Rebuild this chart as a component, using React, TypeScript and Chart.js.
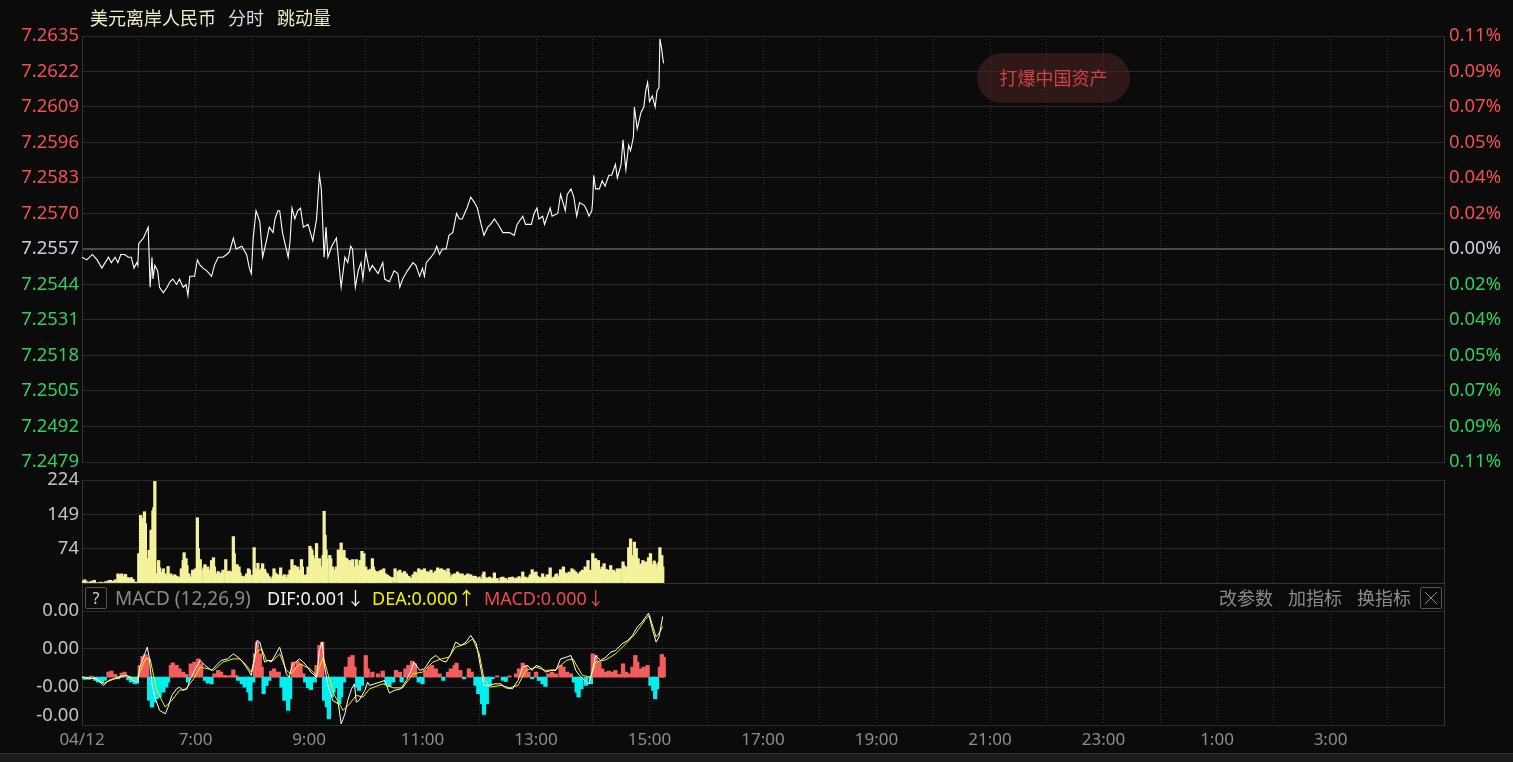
import React, { useEffect, useRef } from "react";
import { Chart, registerables } from "chart.js";

Chart.register(...registerables);

// ---------------- data ----------------
// time axis: minutes after 05:00 (04/12)
const hourLabels = ["04/12", "", "7:00", "", "9:00", "", "11:00", "", "13:00", "", "15:00", "", "17:00", "", "19:00", "", "21:00", "", "23:00", "", "1:00", "", "3:00", "", ""];

const priceTimes = [
  0, 5, 11, 16, 21, 28, 31, 35, 38, 41,
  45, 49, 52, 55, 58, 59, 60, 65, 70, 72,
  74, 75, 77, 80, 82, 86, 90, 93, 96, 100,
  103, 107, 110, 112, 114, 119, 122, 125, 128, 132,
  137, 140, 144, 149, 153, 156, 160, 163, 169, 174,
  177, 179, 181, 184, 188, 191, 195, 198, 202, 204,
  207, 209, 212, 218, 220, 222, 225, 228, 231, 234,
  239, 244, 248, 251, 253, 256, 258, 260, 264, 269,
  274, 278, 281, 284, 286, 289, 292, 295, 297, 300,
  304, 307, 313, 318, 320, 325, 330, 334, 336, 339,
  344, 350, 353, 357, 360, 362, 364, 369, 373, 375,
  378, 381, 385, 388, 392, 396, 399, 402, 407, 411,
  415, 418, 422, 425, 429, 432, 436, 440, 445, 452,
  457, 460, 466, 469, 475, 478, 481, 483, 487, 489,
  492, 495, 497, 503, 506, 511, 513, 517, 520, 523,
  526, 531, 534, 536, 539, 540, 541, 543, 547, 550,
  553, 557, 560, 564, 566, 570, 572, 575, 578, 580,
  583, 584, 587, 591, 594, 596, 598, 600, 603, 606,
  608, 610, 611, 613, 614, 615,
];
const prices = [
  7.2554, 7.2553, 7.2555, 7.2553, 7.2550, 7.2554, 7.2552, 7.2554, 7.2552, 7.2555,
  7.2555, 7.2554, 7.2554, 7.2550, 7.2552, 7.2551, 7.2559, 7.2561, 7.2565, 7.2543,
  7.2554, 7.2546, 7.2551, 7.2549, 7.2543, 7.2541, 7.2543, 7.2545, 7.2546, 7.2544,
  7.2546, 7.2543, 7.2544, 7.2540, 7.2547, 7.2547, 7.2553, 7.2551, 7.2550, 7.2549,
  7.2547, 7.2551, 7.2554, 7.2554, 7.2555, 7.2556, 7.2561, 7.2557, 7.2558, 7.2555,
  7.2550, 7.2548, 7.2561, 7.2571, 7.2567, 7.2554, 7.2560, 7.2565, 7.2563, 7.2568,
  7.2571, 7.2571, 7.2563, 7.2554, 7.2560, 7.2572, 7.2568, 7.2571, 7.2572, 7.2565,
  7.2566, 7.2560, 7.2568, 7.2584, 7.2579, 7.2554, 7.2565, 7.2554, 7.2558, 7.2561,
  7.2543, 7.2554, 7.2552, 7.2558, 7.2557, 7.2543, 7.2549, 7.2552, 7.2546, 7.2556,
  7.2549, 7.2551, 7.2548, 7.2552, 7.2546, 7.2545, 7.2549, 7.2548, 7.2543, 7.2546,
  7.2549, 7.2552, 7.2551, 7.2547, 7.2550, 7.2547, 7.2552, 7.2554, 7.2556, 7.2558,
  7.2555, 7.2557, 7.2557, 7.2562, 7.2563, 7.2570, 7.2568, 7.2568, 7.2572, 7.2576,
  7.2574, 7.2572, 7.2566, 7.2562, 7.2565, 7.2566, 7.2568, 7.2566, 7.2563, 7.2563,
  7.2562, 7.2566, 7.2569, 7.2566, 7.2566, 7.2570, 7.2572, 7.2568, 7.2569, 7.2566,
  7.2569, 7.2572, 7.2569, 7.2570, 7.2577, 7.2571, 7.2577, 7.2579, 7.2576, 7.2569,
  7.2574, 7.2573, 7.2571, 7.2569, 7.2571, 7.2575, 7.2584, 7.2579, 7.2579, 7.2582,
  7.2580, 7.2584, 7.2584, 7.2588, 7.2583, 7.2588, 7.2597, 7.2586, 7.2595, 7.2593,
  7.2598, 7.2609, 7.2601, 7.2607, 7.2609, 7.2615, 7.2618, 7.2611, 7.2613, 7.2609,
  7.2615, 7.2616, 7.2634, 7.2630, 7.2627, 7.2625,
];

const volTimes = [
  1, 3, 5, 8, 10, 13, 15, 18, 20, 22,
  25, 28, 30, 33, 35, 38, 40, 42, 44, 46,
  48, 50, 52, 54, 56, 58, 60, 62, 63, 65,
  66, 67, 69, 71, 73, 74, 75, 76, 77, 79,
  81, 82, 84, 86, 88, 89, 91, 93, 94, 96,
  98, 100, 101, 103, 105, 107, 108, 110, 111, 113,
  114, 116, 117, 119, 120, 122, 123, 125, 126, 129,
  130, 132, 133, 135, 137, 139, 140, 142, 144, 146,
  147, 149, 152, 153, 154, 156, 158, 160, 161, 163,
  164, 166, 167, 168, 170, 172, 174, 176, 177, 179,
  182, 183, 185, 186, 188, 190, 191, 193, 194, 196,
  197, 198, 200, 202, 203, 204, 205, 207, 209, 210,
  212, 214, 216, 218, 220, 222, 223, 225, 227, 228,
  230, 232, 233, 234, 235, 237, 238, 239, 241, 242,
  243, 244, 245, 248, 249, 250, 251, 252, 255, 256,
  257, 258, 259, 262, 263, 265, 267, 269, 271, 273,
  274, 275, 277, 278, 280, 281, 283, 285, 286, 287,
  288, 290, 292, 294, 295, 296, 297, 298, 300, 302,
  304, 305, 307, 308, 309, 311, 313, 314, 316, 318,
  319, 321, 323, 325, 326, 328, 331, 334, 336, 338,
  339, 341, 343, 345, 346, 348, 350, 352, 353, 356,
  357, 359, 360, 362, 364, 366, 367, 369, 371, 373,
  374, 376, 378, 380, 381, 383, 385, 387, 388, 390,
  392, 394, 395, 397, 399, 401, 402, 404, 406, 408,
  409, 411, 413, 415, 416, 418, 420, 422, 424, 425,
  427, 429, 431, 432, 434, 436, 438, 439, 441, 443,
  445, 446, 448, 450, 452, 453, 455, 457, 459, 460,
  462, 464, 466, 467, 469, 471, 473, 474, 476, 478,
  480, 481, 483, 485, 487, 488, 490, 492, 494, 495,
  497, 499, 501, 502, 504, 506, 508, 509, 511, 513,
  515, 516, 518, 520, 522, 523, 525, 527, 529, 530,
  532, 534, 535, 537, 539, 540, 542, 543, 544, 546,
  547, 548, 550, 552, 554, 556, 557, 559, 561, 562,
  564, 566, 567, 569, 572, 573, 575, 576, 578, 580,
  581, 582, 583, 584, 585, 586, 587, 588, 590, 591,
  592, 593, 595, 596, 598, 599, 600, 601, 602, 603,
  605, 606, 607, 609, 610, 611, 613, 614,
];
const volumes = [
  5, 7, 3, 2, 4, 6, 1, 1, 2, 1,
  3, 5, 6, 4, 7, 20, 18, 20, 15, 19,
  12, 10, 12, 8, 2, 2, 64, 147, 140, 133,
  155, 129, 53, 71, 115, 93, 157, 164, 221, 20,
  49, 33, 24, 31, 20, 15, 36, 13, 20, 15,
  18, 15, 12, 13, 31, 49, 66, 53, 38, 20,
  13, 10, 28, 20, 31, 142, 75, 51, 28, 33,
  40, 28, 35, 28, 49, 55, 35, 20, 25, 17,
  22, 28, 51, 25, 20, 26, 24, 101, 64, 28,
  40, 35, 22, 13, 15, 13, 20, 31, 28, 17,
  77, 31, 25, 43, 28, 31, 42, 30, 24, 20,
  15, 12, 9, 15, 31, 22, 20, 18, 15, 33,
  15, 18, 12, 18, 28, 51, 30, 38, 30, 35,
  28, 51, 35, 17, 15, 18, 15, 35, 80, 75,
  71, 60, 53, 86, 45, 35, 53, 35, 60, 156,
  104, 72, 53, 60, 53, 35, 28, 35, 72, 60,
  87, 60, 71, 55, 53, 35, 49, 40, 51, 35,
  30, 51, 38, 49, 45, 69, 45, 64, 35, 28,
  20, 30, 53, 35, 28, 25, 20, 25, 28, 22,
  31, 20, 17, 14, 9, 12, 31, 25, 28, 22,
  17, 25, 20, 15, 13, 10, 18, 24, 22, 31,
  20, 28, 26, 31, 25, 20, 24, 28, 22, 20,
  26, 33, 30, 31, 26, 28, 24, 31, 22, 13,
  18, 20, 17, 24, 20, 14, 20, 15, 17, 20,
  12, 18, 14, 15, 14, 10, 13, 8, 18, 24,
  12, 10, 13, 6, 10, 22, 10, 9, 4, 12,
  13, 8, 10, 6, 12, 10, 13, 9, 11, 9,
  14, 10, 24, 12, 13, 10, 13, 18, 29, 22,
  24, 15, 13, 11, 20, 12, 13, 18, 14, 33,
  10, 13, 18, 20, 14, 29, 20, 35, 22, 20,
  24, 20, 31, 28, 24, 17, 20, 24, 28, 24,
  35, 30, 49, 28, 25, 64, 40, 53, 35, 49,
  30, 28, 35, 42, 30, 28, 25, 38, 22, 28,
  24, 31, 25, 31, 46, 38, 28, 35, 77, 96,
  60, 53, 45, 89, 55, 75, 45, 53, 40, 35,
  42, 49, 38, 46, 40, 55, 45, 64, 40, 38,
  48, 42, 30, 38, 45, 77, 60, 35,
];

// MACD values in units of 1e-5
const histTimes = [
  0, 3, 7, 10, 14, 17, 21, 24, 28, 31,
  35, 38, 42, 45, 49, 52, 56, 58, 61, 64,
  67, 69, 71, 74, 76, 79, 82, 86, 89, 91,
  94, 96, 100, 103, 107, 110, 112, 115, 119, 123,
  126, 130, 133, 137, 140, 144, 147, 151, 154, 158,
  160, 163, 165, 169, 172, 176, 178, 181, 183, 185,
  188, 190, 192, 195, 198, 200, 203, 205, 208, 211,
  214, 218, 220, 223, 226, 228, 231, 234, 236, 239,
  242, 246, 248, 251, 254, 256, 259, 261, 264, 266,
  269, 272, 274, 277, 279, 283, 286, 288, 291, 293,
  296, 300, 302, 307, 313, 318, 322, 325, 329, 332,
  336, 338, 342, 345, 349, 352, 356, 360, 363, 367,
  370, 374, 378, 382, 387, 390, 394, 396, 400, 404,
  409, 412, 416, 419, 423, 425, 428, 431, 434, 439,
  445, 448, 452, 459, 462, 466, 469, 472, 476, 480,
  483, 487, 490, 493, 497, 501, 506, 509, 513, 517,
  520, 523, 525, 528, 533, 538, 540, 543, 547, 550,
  554, 557, 561, 564, 568, 572, 575, 578, 582, 585,
  587, 591, 594, 598, 601, 604, 606, 608, 611, 613,
  615,
];
const histE5 = [
  -0.9, -2.0, -1.8, 0.9, -2.9, -4.4, -5.3, -2.9, 4.4, 5.3,
  2.4, -1.5, 3.5, 4.4, -2.4, -4.4, -5.9, -5.3, 10.3, 18.2,
  19.9, 17.5, -20.4, -26.3, -21.9, -19.0, -17.5, -13.2, -8.8, -4.4,
  10.3, 12.5, 10.3, 7.3, 4.4, 2.4, -4.4, 11.7, 13.2, 16.0,
  11.7, -2.9, -5.3, -5.9, 2.9, 5.9, 4.4, 1.5, 1.1, 1.5,
  6.4, 1.5, -2.9, -5.9, -8.8, -13.2, -20.4, -4.4, 20.4, 30.7,
  20.4, 8.8, -14.6, -7.3, -2.9, 5.3, 7.3, 4.4, 4.4, -8.8,
  -20.4, -29.2, -19.0, 13.2, 8.8, 13.8, 11.7, 2.9, -4.4, -9.4,
  -11.1, -4.4, 10.3, 27.8, 30.7, -20.4, -26.3, -36.6, -17.5, -13.2,
  -9.4, -23.4, -17.5, -4.4, 8.8, 17.5, 19.0, 8.8, -8.8, -11.7,
  -7.3, 19.0, 7.3, 4.4, 2.9, 5.3, -5.9, -8.2, -4.4, 5.9,
  4.4, -4.4, 7.3, 10.3, 14.0, 11.7, -4.4, -5.9, 5.9, 8.8,
  10.3, 7.3, 2.9, -2.9, 4.4, 7.3, 10.3, 12.3, 5.9, -1.5,
  7.3, 4.4, -7.3, -14.6, -23.4, -32.7, -23.4, -7.3, -1.5, 1.1,
  -2.9, -3.8, 1.1, 2.9, 7.3, 12.3, 10.3, 4.4, -1.5, 4.4,
  -2.9, -5.9, -8.2, 2.9, 4.4, 2.9, 10.3, 8.8, 4.4, 2.9,
  -4.4, -13.2, -17.5, -10.3, -7.3, -5.9, 20.4, 19.0, 13.2, 7.3,
  4.4, 5.3, 4.4, 5.9, 2.4, 11.7, 4.4, 2.9, 8.8, 19.0,
  13.2, 7.3, 8.8, 10.3, -7.3, -11.7, -19.0, -10.3, 8.8, 19.9,
  17.5,
];

const difTimes = [
  0, 8, 14, 23, 28, 33, 40, 47, 54, 59,
  61, 67, 69, 71, 74, 77, 82, 88, 91, 95,
  100, 103, 107, 111, 114, 119, 125, 130, 137, 142,
  147, 154, 160, 165, 170, 176, 179, 182, 185, 188,
  191, 193, 197, 200, 205, 209, 213, 216, 219, 222,
  226, 230, 234, 237, 242, 248, 251, 254, 256, 260,
  265, 271, 274, 278, 281, 285, 288, 290, 293, 299,
  302, 304, 315, 320, 325, 330, 337, 343, 348, 351,
  357, 362, 369, 374, 380, 385, 390, 395, 401, 406,
  411, 417, 422, 425, 431, 436, 443, 448, 455, 461,
  466, 471, 476, 480, 485, 490, 496, 501, 506, 512,
  517, 522, 526, 531, 536, 540, 543, 548, 554, 559,
  564, 571, 577, 582, 587, 592, 599, 603, 607, 610,
  614,
];
const difE5 = [
  0, -1.5, -0.6, -7.3, -2.9, -1.5, 0.6, 1.5, -2.9, -4.4,
  8.8, 21.9, 26.3, 17.5, -5.9, -17.5, -29.2, -32.2, -26.3, -16.0,
  -10.3, -8.8, -11.7, -10.3, -2.9, 5.9, 14.6, 10.3, 5.9, 10.3,
  14.6, 16.0, 20.4, 17.5, 13.2, 5.9, 1.5, 14.6, 32.2, 30.7,
  20.4, 13.2, 14.6, 13.2, 20.4, 26.3, 14.6, 2.9, 0, 10.3,
  13.2, 16.0, 13.2, 10.3, 4.4, 0, 23.4, 30.7, 11.7, -7.3,
  -20.4, -23.4, -41.0, -32.2, -20.4, -10.3, -5.9, -21.9, -20.4, -11.7,
  -4.4, -7.3, -4.4, -2.9, -14.0, -11.7, -10.3, -2.9, 5.9, 13.2,
  5.9, 7.3, 16.0, 19.0, 14.6, 13.2, 20.4, 30.7, 27.8, 30.7,
  36.6, 29.2, 5.9, -7.3, -7.3, -5.9, -5.9, -9.4, -10.3, -2.9,
  8.8, 10.3, 5.9, 10.3, 8.8, 4.4, 5.9, 5.9, 16.0, 17.5,
  19.0, 5.9, 1.5, -2.9, -5.9, 7.3, 19.0, 14.6, 17.5, 21.9,
  23.4, 29.2, 32.2, 36.6, 43.9, 48.2, 56.1, 42.4, 30.7, 35.1,
  53.2,
];

const deaTimes = [
  0, 12, 23, 33, 47, 58, 67, 72, 79, 88,
  95, 103, 110, 118, 125, 133, 139, 149, 160, 167,
  174, 179, 184, 190, 195, 202, 209, 216, 221, 230,
  241, 248, 255, 260, 267, 276, 283, 290, 297, 304,
  318, 329, 339, 350, 360, 371, 380, 388, 395, 406,
  413, 420, 425, 431, 443, 452, 461, 469, 480, 490,
  501, 512, 519, 529, 538, 543, 554, 564, 575, 585,
  596, 600, 607, 611, 614,
];
const deaE5 = [
  0, -0.9, -5.3, -2.0, 1.5, -1.5, 16.0, 16.0, -11.7, -26.3,
  -20.4, -11.7, -10.3, -1.5, 8.8, 7.3, 5.9, 13.2, 16.0, 16.0,
  10.3, 4.4, 21.9, 24.8, 14.6, 14.6, 20.4, 5.9, 2.9, 11.7,
  7.3, 1.5, 17.5, 2.9, -16.0, -29.2, -23.4, -16.0, -17.5, -10.3,
  -5.9, -9.4, -9.4, 2.9, 4.4, 13.2, 16.0, 17.5, 26.3, 29.2,
  33.6, 20.4, -1.5, -8.8, -7.3, -9.4, -7.3, 5.9, 8.8, 5.9,
  6.4, 14.6, 16.0, 1.5, 0, 13.2, 15.2, 20.4, 29.2, 38.0,
  51.1, 54.1, 35.1, 39.5, 44.5,
];

// axis ticks
const prevClose = 7.2557;
const priceTicks = [7.2479, 7.2492, 7.2505, 7.2518, 7.2531, 7.2544, 7.2557, 7.257, 7.2583, 7.2596, 7.2609, 7.2622, 7.2635];
const priceTickLabels = ["7.2479", "7.2492", "7.2505", "7.2518", "7.2531", "7.2544", "7.2557", "7.2570", "7.2583", "7.2596", "7.2609", "7.2622", "7.2635"];
const percentLabels = ["0.11%", "0.09%", "0.07%", "0.05%", "0.04%", "0.02%", "0.00%", "0.02%", "0.04%", "0.05%", "0.07%", "0.09%", "0.11%"];
const volumeTicks = [0, 74.67, 149.33, 224];
const volumeTickLabels = ["", "74", "149", "224"];
const macdTicksE5 = [-42, -8.67, 24.67, 58];
const macdTickLabels = ["-0.00", "-0.00", "0.00", "0.00"];

// ---------------- styles ----------------
const FONT = '"Microsoft YaHei", "Noto Sans", "Noto Sans CJK SC", sans-serif';
const W = 1513;
const H = 762;
const BG = "#0b0b0b";
const GRID = "#292929";
const DOT = "#363636";
const BORDER = "#353535";
const RED = "#f05050";
const GREEN = "#30cf5c";
const FLAT = "#c8d0e0";
const NUM = "#c4c4c4";
const XTEXT = "#8e8e8e";

const hourValues = hourLabels.map((_, i) => i * 60);

function xScale(showLabels: boolean): any {
  return {
    type: "linear",
    min: 0,
    max: 1440,
    offset: false,
    afterBuildTicks: (s: any) => {
      s.ticks = hourValues.map((v) => ({ value: v }));
    },
    afterFit: (s: any) => {
      s.height = showLabels ? 30 : 0;
    },
    ticks: showLabels
      ? {
          display: true,
          autoSkip: false,
          maxRotation: 0,
          minRotation: 0,
          padding: 5,
          color: XTEXT,
          font: { family: FONT, size: 17 },
          callback: (_v: any, i: number) => hourLabels[i],
        }
      : { display: false },
    grid: {
      drawTicks: false,
      offset: false,
      lineWidth: 1,
      color: (c: any) => (c.index === 0 || c.index === hourLabels.length - 1 ? "rgba(0,0,0,0)" : DOT),
    },
    border: { display: false, dash: [1, 2] },
  };
}

function rightBorderAxis(): any {
  return {
    position: "right",
    afterFit: (s: any) => {
      s.width = 69;
    },
    ticks: { display: false },
    grid: { display: false, drawTicks: false },
    border: { color: BORDER },
  };
}

function priceColor(v: number) {
  if (Math.abs(v - prevClose) < 1e-6) return FLAT;
  return v > prevClose ? RED : GREEN;
}

const baseOptions: any = {
  responsive: false,
  maintainAspectRatio: false,
  animation: false,
  events: [],
  plugins: { legend: { display: false }, tooltip: { enabled: false }, title: { display: false } },
};

export default function App() {
  const priceRef = useRef<HTMLCanvasElement>(null);
  const volRef = useRef<HTMLCanvasElement>(null);
  const macdRef = useRef<HTMLCanvasElement>(null);

  useEffect(() => {
    const charts: Chart[] = [];

    // ---------- price panel ----------
    charts.push(
      new Chart(priceRef.current as HTMLCanvasElement, {
        type: "line",
        data: {
          datasets: [
            {
              data: priceTimes.map((t, i) => ({ x: t, y: prices[i] })),
              borderColor: "#ffffff",
              borderWidth: 1.1,
              pointRadius: 0,
              tension: 0,
              yAxisID: "y",
            },
          ],
        },
        options: {
          ...baseOptions,
          layout: { padding: { top: 36, bottom: H - 462, left: 0, right: 0 } },
          scales: {
            x: xScale(false),
            y: {
              type: "linear",
              position: "left",
              min: priceTicks[0],
              max: priceTicks[priceTicks.length - 1],
              afterBuildTicks: (s: any) => {
                s.ticks = priceTicks.map((v) => ({ value: v }));
              },
              afterFit: (s: any) => {
                s.width = 82;
              },
              ticks: {
                autoSkip: false,
                padding: 3,
                font: { family: FONT, size: 18.5 },
                color: (c: any) => priceColor(c.tick.value),
                callback: (_v: any, i: number) => priceTickLabels[i],
              },
              grid: {
                drawTicks: false,
                color: (c: any) => (c.tick && Math.abs(c.tick.value - prevClose) < 1e-6 ? "#4a4a4a" : GRID),
                lineWidth: (c: any) => (c.tick && Math.abs(c.tick.value - prevClose) < 1e-6 ? 2 : 1),
              },
              border: { color: BORDER },
            },
            y1: {
              type: "linear",
              position: "right",
              min: priceTicks[0],
              max: priceTicks[priceTicks.length - 1],
              afterBuildTicks: (s: any) => {
                s.ticks = priceTicks.map((v) => ({ value: v }));
              },
              afterFit: (s: any) => {
                s.width = 69;
              },
              ticks: {
                autoSkip: false,
                padding: 5,
                font: { family: FONT, size: 18.5 },
                color: (c: any) => priceColor(c.tick.value),
                callback: (_v: any, i: number) => percentLabels[i],
              },
              grid: { display: false, drawTicks: false },
              border: { color: BORDER },
            },
          },
        },
      } as any)
    );

    // ---------- volume panel ----------
    charts.push(
      new Chart(volRef.current as HTMLCanvasElement, {
        type: "bar",
        data: {
          datasets: [
            {
              data: volTimes.map((t, i) => ({ x: t, y: volumes[i] })),
              backgroundColor: "#f4f29c",
              borderWidth: 0,
              barThickness: 2.6,
            },
          ],
        },
        options: {
          ...baseOptions,
          layout: { padding: { top: 480, bottom: H - 583, left: 0, right: 0 } },
          scales: {
            x: xScale(false),
            y: {
              type: "linear",
              position: "left",
              min: 0,
              max: 224,
              afterBuildTicks: (s: any) => {
                s.ticks = volumeTicks.map((v) => ({ value: v }));
              },
              afterFit: (s: any) => {
                s.width = 82;
              },
              ticks: {
                autoSkip: false,
                padding: 3,
                color: NUM,
                font: { family: FONT, size: 18.5 },
                callback: (_v: any, i: number) => volumeTickLabels[i],
              },
              grid: { drawTicks: false, color: GRID },
              border: { color: BORDER },
            },
            yr: rightBorderAxis(),
          },
        },
      } as any)
    );

    // ---------- MACD panel ----------
    const bottomLabel = {
      id: "macdBottomLabel",
      afterDraw(chart: any) {
        const { ctx, chartArea } = chart;
        ctx.save();
        ctx.font = `18.5px ${FONT}`;
        ctx.fillStyle = NUM;
        ctx.textAlign = "right";
        ctx.textBaseline = "middle";
        ctx.fillText(macdTickLabels[0], chartArea.left - 3, chartArea.bottom - 9);
        ctx.restore();
      },
    };

    charts.push(
      new Chart(macdRef.current as HTMLCanvasElement, {
        type: "bar",
        data: {
          datasets: [
            {
              type: "line",
              data: deaTimes.map((t, i) => ({ x: t, y: deaE5[i] })),
              borderColor: "#f2f200",
              borderWidth: 1,
              pointRadius: 0,
              tension: 0,
              order: 1,
            },
            {
              type: "line",
              data: difTimes.map((t, i) => ({ x: t, y: difE5[i] })),
              borderColor: "#ffffff",
              borderWidth: 1,
              pointRadius: 0,
              tension: 0,
              order: 0,
            },
            {
              type: "bar",
              data: histTimes.map((t, i) => ({ x: t, y: histE5[i] })),
              backgroundColor: histE5.map((v) => (v >= 0 ? "#f45d5d" : "#00f0f0")),
              borderWidth: 0,
              barThickness: 3.6,
              order: 2,
            },
          ],
        },
        options: {
          ...baseOptions,
          layout: { padding: { top: 611, bottom: H - 725 - 30, left: 0, right: 0 } },
          scales: {
            x: xScale(true),
            y: {
              type: "linear",
              position: "left",
              min: macdTicksE5[0],
              max: macdTicksE5[macdTicksE5.length - 1],
              afterBuildTicks: (s: any) => {
                s.ticks = macdTicksE5.map((v) => ({ value: v }));
              },
              afterFit: (s: any) => {
                s.width = 82;
              },
              ticks: {
                autoSkip: false,
                padding: 3,
                color: NUM,
                font: { family: FONT, size: 18.5 },
                callback: (_v: any, i: number) => (i === 0 ? "" : macdTickLabels[i]),
              },
              grid: { drawTicks: false, color: GRID },
              border: { color: BORDER },
            },
            yr: rightBorderAxis(),
          },
        },
        plugins: [bottomLabel],
      } as any)
    );

    return () => charts.forEach((c) => c.destroy());
  }, []);

  const canvasStyle: React.CSSProperties = { position: "absolute", left: 0, top: 0, width: W, height: H };
  const txt = (left: number, top: number, color: string, text: string, size = 18): React.ReactNode => (
    <div style={{ position: "absolute", left, top, color, fontSize: size, lineHeight: "24px", whiteSpace: "nowrap" }}>{text}</div>
  );

  return (
    <div style={{ position: "fixed", left: 0, top: 0, width: W, height: H, background: BG, overflow: "hidden", fontFamily: FONT }}>
      <canvas ref={priceRef} width={W} height={H} style={canvasStyle} />
      <canvas ref={volRef} width={W} height={H} style={canvasStyle} />
      <canvas ref={macdRef} width={W} height={H} style={canvasStyle} />

      {/* title row */}
      {txt(90, 6, "#f1edc2", "美元离岸人民币")}
      {txt(228, 6, "#d6dcea", "分时")}
      {txt(277, 6, "#f1edc2", "跳动量")}

      {/* bubble */}
      <div
        style={{
          position: "absolute",
          left: 977,
          top: 53,
          width: 153,
          height: 50,
          borderRadius: 25,
          background: "rgba(78,36,36,0.55)",
          color: "#d24242",
          fontSize: 18,
          lineHeight: "50px",
          textAlign: "center",
        }}
      >
        打爆中国资产
      </div>

      {/* MACD header row */}
      <div
        style={{
          position: "absolute",
          left: 82,
          top: 583,
          width: 1361,
          height: 28,
          borderLeft: `1px solid ${BORDER}`,
          borderRight: `1px solid ${BORDER}`,
          borderTop: `1px solid ${BORDER}`,
        }}
      />
      <div
        style={{
          position: "absolute",
          left: 85,
          top: 587,
          width: 20,
          height: 20,
          border: "1px solid #555",
          borderRadius: 2,
          color: "#d0d0d0",
          fontSize: 16,
          lineHeight: "20px",
          textAlign: "center",
        }}
      >
        ?
      </div>
      {txt(115, 586, "#8a8a8a", "MACD (12,26,9)", 19)}
      {txt(267, 586, "#f2f2f2", "DIF:0.001↓")}
      {txt(372, 586, "#f2f200", "DEA:0.000↑")}
      {txt(484, 586, "#f04a4a", "MACD:0.000↓")}
      {txt(1219, 586, "#8c8c8c", "改参数")}
      {txt(1288, 586, "#8c8c8c", "加指标")}
      {txt(1357, 586, "#8c8c8c", "换指标")}
      <div
        style={{
          position: "absolute",
          left: 1420,
          top: 587,
          width: 20,
          height: 20,
          border: "1px solid #555",
          borderRadius: 2,
        }}
      >
        <svg width="20" height="20" style={{ display: "block" }}>
          <line x1="4" y1="4" x2="16" y2="16" stroke="#8c8c8c" strokeWidth="1" />
          <line x1="16" y1="4" x2="4" y2="16" stroke="#8c8c8c" strokeWidth="1" />
        </svg>
      </div>

      {/* bottom strip */}
      <div style={{ position: "absolute", left: 0, top: 753, width: W, height: 9, background: "#1b1b1b", borderTop: "1px solid #333" }} />
    </div>
  );
}
